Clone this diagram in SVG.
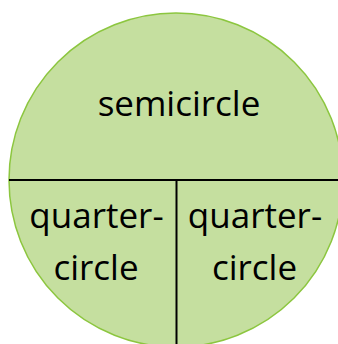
<svg xmlns="http://www.w3.org/2000/svg" width="338" height="344" viewBox="0 0 338 344">
<style>
.t{font-family:"Open Sans","Noto Sans",sans-serif;font-size:35px;fill:#000;text-anchor:middle}
.ln{stroke:#000;stroke-width:2;fill:none}
</style>
<rect width="338" height="344" fill="#fff"/>
<g id="circle">
<circle cx="176" cy="180" r="167" fill="#c5df9f" stroke="#8cc63f" stroke-width="1.5"/>
</g>
<g id="connectors">
<line class="ln" x1="9" y1="180" x2="343" y2="180"/>
<line class="ln" x1="176.5" y1="180" x2="176.5" y2="347"/>
</g>
<g id="semicircle"><text class="t" x="179" y="116">semicircle</text></g>
<g id="quarter-left"><text class="t" x="96.5" y="228">quarter-</text><text class="t" x="96" y="280">circle</text></g>
<g id="quarter-right"><text class="t" x="255" y="228">quarter-</text><text class="t" x="254.5" y="280">circle</text></g>
</svg>
